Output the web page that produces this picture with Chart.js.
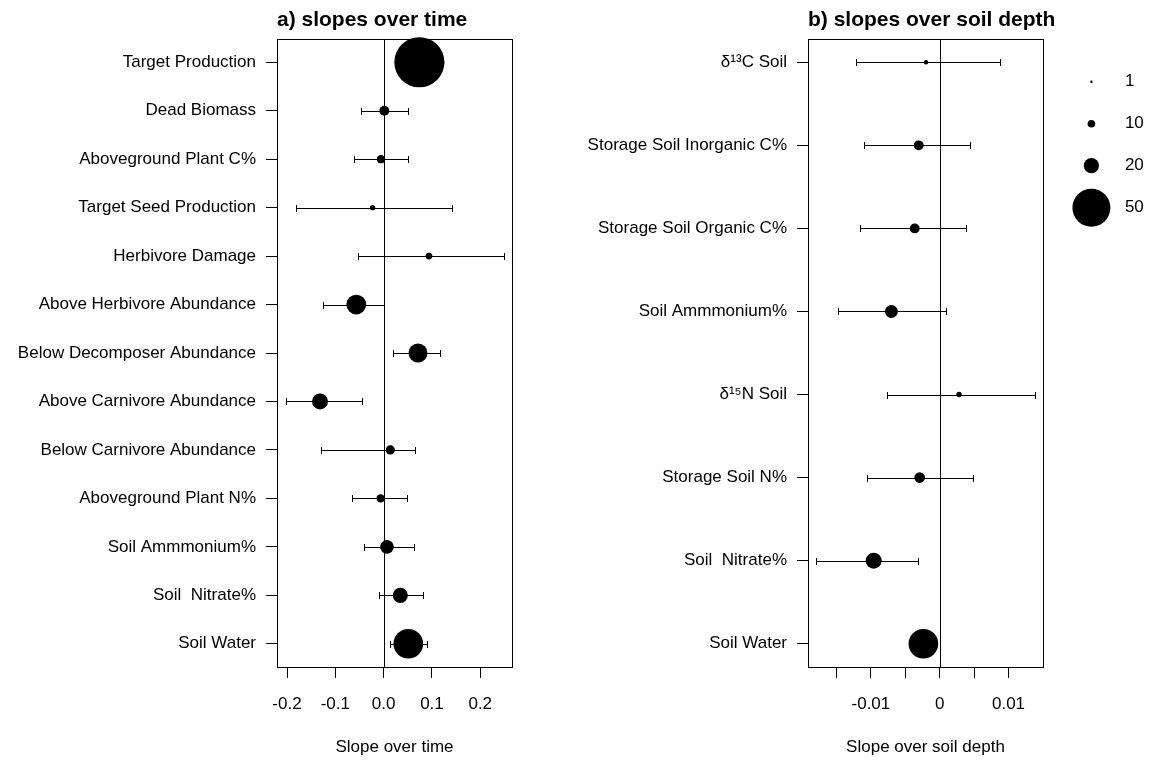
<!DOCTYPE html>
<html><head><meta charset="utf-8">
<script src="https://cdn.jsdelivr.net/npm/chart.js@4/dist/chart.umd.min.js"></script>
<style>
html,body{margin:0;padding:0;background:#fff;width:1152px;height:763px;overflow:hidden}
#wa{position:absolute;left:0;top:0;width:560px;height:763px}
#wb{position:absolute;left:560px;top:0;width:592px;height:763px}
</style></head><body>
<div id="wa"><canvas id="ca"></canvas></div>
<div id="wb"><canvas id="cb"></canvas></div>
<script>
// ---- panel a: slopes over time ----
const timeCategories = ['Target Production','Dead Biomass','Aboveground Plant C%','Target Seed Production','Herbivore Damage','Above Herbivore Abundance','Below Decomposer Abundance','Above Carnivore Abundance','Below Carnivore Abundance','Aboveground Plant N%','Soil Ammmonium%','Soil  Nitrate%','Soil Water'];
const timeSlopes = [0.074, 0.0014, -0.0055, -0.0228, 0.0938, -0.0566, 0.0711, -0.1317, 0.0138, -0.0062, 0.0069, 0.0345, 0.0511];
const timeLower  = [0.055, -0.0476, -0.0614, -0.182, -0.0524, -0.1248, 0.0193, -0.202, -0.1296, -0.0662, -0.040, -0.0089, 0.013];
const timeUpper  = [0.093, 0.0505, 0.0505, 0.142, 0.249, 0.0, 0.1166, -0.0455, 0.0642, 0.0483, 0.0621, 0.0807, 0.089];
const timeN      = [66, 13, 11, 7, 9, 26, 25, 21, 12, 11, 18, 20, 39];
const timeTicks = [-0.2, -0.1, 0, 0.1, 0.2];
const timeTickLabels = ['-0.2','-0.1','0.0','0.1','0.2'];
const timeRange = [-0.2207, 0.2657];

// ---- panel b: slopes over soil depth ----
const depthCategories = ['δ¹³C Soil','Storage Soil Inorganic C%','Storage Soil Organic C%','Soil Ammmonium%','δ¹⁵N Soil','Storage Soil N%','Soil  Nitrate%','Soil Water'];
const depthSlopes = [-0.00199, -0.00305, -0.00363, -0.00702, 0.00281, -0.00291, -0.00959, -0.00237];
const depthLower  = [-0.01211, -0.01105, -0.01153, -0.01483, -0.00770, -0.01056, -0.01797, -0.0042];
const depthUpper  = [0.00882, 0.00436, 0.00388, 0.00097, 0.01381, 0.00484, -0.00320, -0.0006];
const depthN      = [6, 13, 13, 17, 7, 14, 21, 39];
const depthTicks = [-0.015, -0.01, -0.005, 0, 0.005, 0.01];
const depthTickLabels = ['','-0.01','','0','','0.01'];
const depthRange = [-0.01914, 0.01501];

const legendN = [1, 10, 20, 50];
const legendLabels = ['1','10','20','50'];

const FONT = 'Liberation Sans, Arial, Helvetica, sans-serif';
Chart.defaults.font.family = FONT;
Chart.defaults.font.size = 17;
Chart.defaults.color = '#000';

function radiusFor(n){ return Math.max(1.2, n * 0.38); }

function makeOverlay(title, lower, upper, withLegend){
  return {
    id: 'overlay',
    beforeDatasetsDraw(chart){
      const {ctx, chartArea: a, scales: {x, y}} = chart;
      ctx.save();
      ctx.strokeStyle = '#000';
      ctx.lineWidth = 1;
      const x0 = Math.round(x.getPixelForValue(0)) + 0.5;
      ctx.beginPath(); ctx.moveTo(x0, a.top); ctx.lineTo(x0, a.bottom); ctx.stroke();
      lower.forEach((lo, i) => {
        const yy = Math.round(y.getPixelForValue(i + 1)) + 0.5;
        const xl = Math.round(x.getPixelForValue(lo)) + 0.5;
        const xh = Math.round(x.getPixelForValue(upper[i])) + 0.5;
        ctx.beginPath();
        ctx.moveTo(xl, yy); ctx.lineTo(xh, yy);
        ctx.moveTo(xl, yy - 3.5); ctx.lineTo(xl, yy + 3.5);
        ctx.moveTo(xh, yy - 3.5); ctx.lineTo(xh, yy + 3.5);
        ctx.stroke();
      });
      ctx.restore();
    },
    afterDraw(chart){
      const {ctx, chartArea: a} = chart;
      ctx.save();
      ctx.strokeStyle = '#000';
      ctx.lineWidth = 1;
      ctx.strokeRect(Math.round(a.left) + 0.5, Math.round(a.top) + 0.5, Math.round(a.right - a.left), Math.round(a.bottom - a.top));
      ctx.fillStyle = '#000';
      ctx.font = 'bold 21px ' + FONT;
      ctx.textAlign = 'left';
      ctx.textBaseline = 'alphabetic';
      ctx.fillText(title, a.left, 26);
      if (withLegend){
        const cx = a.right + 48.4;
        ctx.font = '17px ' + FONT;
        ctx.textBaseline = 'middle';
        legendN.forEach((n, i) => {
          const cy = a.top + 42.7 + i * 42;
          ctx.beginPath();
          ctx.arc(cx, cy, radiusFor(n), 0, Math.PI * 2);
          ctx.fill();
          ctx.fillText(legendLabels[i], cx + 33.5, cy);
        });
      }
      ctx.restore();
    }
  };
}

function buildChart(id, cats, slopes, lower, upper, ns, ticks, tickLabels, range, axisTitle, title, yWidth, rightPad, withLegend){
  return new Chart(document.getElementById(id), {
    type: 'scatter',
    data: {
      datasets: [{
        data: slopes.map((v, i) => ({x: v, y: i + 1})),
        backgroundColor: '#000',
        borderWidth: 0,
        pointRadius: ctx => radiusFor(ns[ctx.dataIndex]),
        pointStyle: 'circle',
        clip: false
      }]
    },
    options: {
      responsive: true,
      maintainAspectRatio: false,
      animation: false,
      events: [],
      layout: {padding: {top: 39, right: rightPad, left: 0, bottom: 0}},
      plugins: {legend: {display: false}, tooltip: {enabled: false}, title: {display: false}},
      scales: {
        x: {
          type: 'linear',
          min: range[0], max: range[1],
          afterBuildTicks: s => { s.ticks = ticks.map(v => ({value: v})); },
          afterFit: s => { s.height = 96; },
          grid: {drawOnChartArea: false, tickLength: 11, color: '#000'},
          border: {display: true, color: '#000'},
          ticks: {autoSkip: false, maxRotation: 0, padding: 16, color: '#000',
                  callback: (v, i) => tickLabels[i]},
          title: {display: true, text: axisTitle, color: '#000', padding: {top: 0, bottom: 5}}
        },
        y: {
          type: 'linear',
          reverse: true,
          min: 1 - 0.04 * (cats.length - 1), max: cats.length + 0.04 * (cats.length - 1),
          afterBuildTicks: s => { s.ticks = cats.map((c, i) => ({value: i + 1})); },
          afterFit: s => { s.width = yWidth; },
          grid: {drawOnChartArea: false, tickLength: 11, color: '#000'},
          border: {display: true, color: '#000'},
          ticks: {autoSkip: false, padding: 10, color: '#000',
                  callback: v => cats[Math.round(v) - 1]}
        }
      }
    },
    plugins: [makeOverlay(title, lower, upper, withLegend)]
  });
}

buildChart('ca', timeCategories, timeSlopes, timeLower, timeUpper, timeN, timeTicks, timeTickLabels, timeRange,
  'Slope over time', 'a) slopes over time', 277, 48, false);
buildChart('cb', depthCategories, depthSlopes, depthLower, depthUpper, depthN, depthTicks, depthTickLabels, depthRange,
  'Slope over soil depth', 'b) slopes over soil depth', 248, 109, true);
</script>
</body></html>
